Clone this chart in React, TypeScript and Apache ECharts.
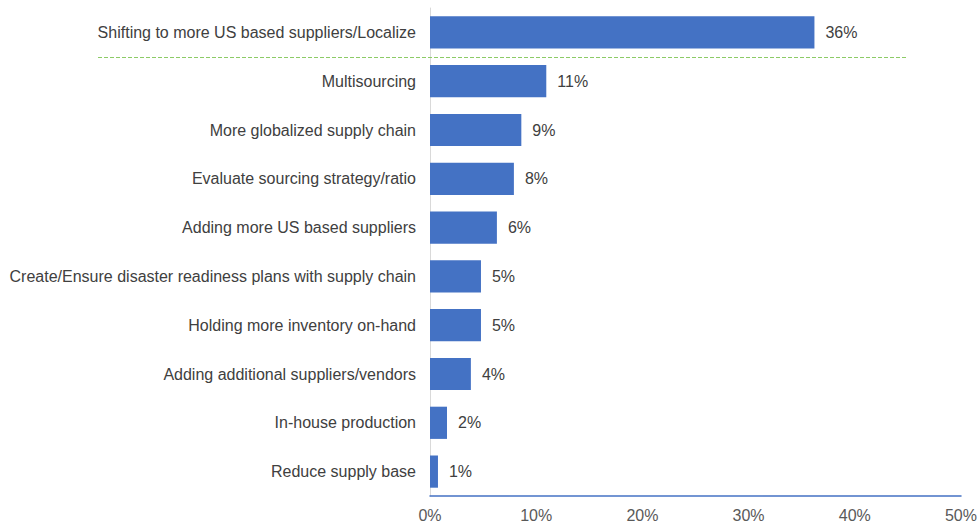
import React, { useEffect, useRef } from "react";
import * as echarts from "echarts";

const categories = [
  "Shifting to more US based suppliers/Localize",
  "Multisourcing",
  "More globalized supply chain",
  "Evaluate sourcing strategy/ratio",
  "Adding more US based suppliers",
  "Create/Ensure disaster readiness plans with supply chain",
  "Holding more inventory on-hand",
  "Adding additional suppliers/vendors",
  "In-house production",
  "Reduce supply base",
];
const values = [36.2, 10.95, 8.6, 7.9, 6.3, 4.8, 4.8, 3.85, 1.6, 0.75];
const valueLabels = ["36%", "11%", "9%", "8%", "6%", "5%", "5%", "4%", "2%", "1%"];
const xTicks = [0, 10, 20, 30, 40, 50];

export default function App() {
  const ref = useRef<HTMLDivElement>(null);
  useEffect(() => {
    if (!ref.current) return;
    const chart = echarts.init(ref.current, undefined, { renderer: "svg" });
    const font = "'Liberation Sans', Arial, sans-serif";
    chart.setOption({
      animation: false,
      textStyle: { fontFamily: font },
      grid: { left: 430, right: 17, top: 8, bottom: 26, containLabel: false },
      xAxis: {
        type: "value",
        min: xTicks[0],
        max: xTicks[xTicks.length - 1],
        interval: 10,
        axisLine: { show: true, lineStyle: { color: "#4472C4", width: 1.5 } },
        axisTick: { show: false },
        splitLine: { show: false },
        axisLabel: {
          color: "#595959",
          fontSize: 16,
          fontFamily: font,
          margin: 11,
          formatter: (v: number) => `${v}%`,
        },
      },
      yAxis: {
        type: "category",
        data: categories,
        inverse: true,
        axisLine: { show: true, lineStyle: { color: "#D9D9D9", width: 1 } },
        axisTick: { show: false },
        axisLabel: { color: "#404040", fontSize: 16, fontFamily: font, margin: 14 },
      },
      series: [
        {
          type: "bar",
          data: values,
          barCategoryGap: "34%",
          itemStyle: { color: "#4472C4" },
          label: {
            show: true,
            position: "right",
            distance: 11,
            color: "#404040",
            fontSize: 16,
            fontFamily: font,
            formatter: (p: any) => valueLabels[p.dataIndex],
          },
        },
      ],
    });
    const y0 = chart.convertToPixel({ yAxisIndex: 0 }, 0) as number;
    const y1 = chart.convertToPixel({ yAxisIndex: 0 }, 1) as number;
    const ySep = Math.round((y0 + y1) / 2) + 0.5;
    chart.setOption({
      graphic: [
        {
          type: "line",
          shape: { x1: 98, y1: ySep, x2: 906, y2: ySep },
          style: { stroke: "#8CCB66", lineWidth: 1, lineDash: [4, 2] },
          z: 10,
        },
      ],
    });
    return () => chart.dispose();
  }, []);
  return (
    <div
      ref={ref}
      style={{ position: "fixed", left: 0, top: 0, width: 980, height: 523, background: "#fff" }}
    />
  );
}
